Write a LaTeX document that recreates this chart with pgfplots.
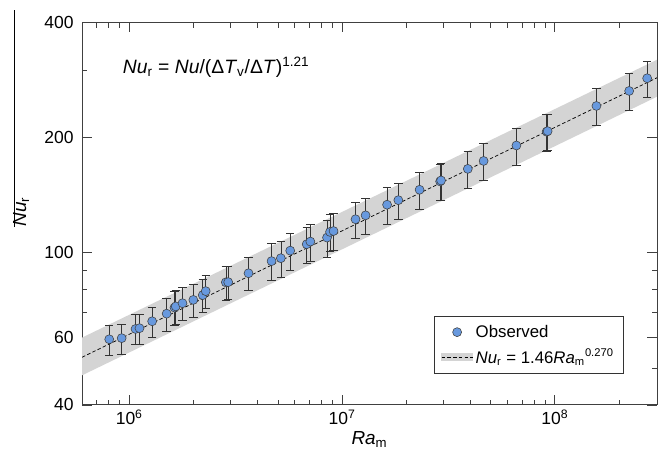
\documentclass[border=0pt]{standalone}
\usepackage{fontspec}
\setmainfont{Liberation Sans}
\usepackage{pgfplots}
\pgfplotsset{compat=1.18}
\usepackage{pgfplotstable}

\definecolor{ptblue}{RGB}{104,153,222}
\definecolor{bandgray}{RGB}{212,212,212}

% Ra_m, Nu_r, relative error
\pgfplotstableread{
ra      nu     err
8.05e5  59.4   0.09
9.21e5  59.8   0.09
1.07e6  63.2   0.09
1.117e6 63.5   0.09
1.281e6 66.2   0.09
1.499e6 69.3   0.10
1.631e6 71.9   0.10
1.654e6 72.4   0.10
1.779e6 73.8   0.10
2.00e6  75.3   0.10
2.214e6 77.5   0.10
2.287e6 79.4   0.10
2.843e6 83.7   0.10
2.917e6 83.8   0.10
3.635e6 88.4   0.10
4.663e6 95.1   0.11
5.157e6 96.8   0.11
5.708e6 101.3  0.11
6.823e6 105.3  0.11
7.096e6 107.0  0.11
8.50e6  109.6  0.11
8.78e6  113.4  0.11
9.12e6  114.0  0.11
1.157e7 122.4  0.11
1.290e7 125.3  0.11
1.628e7 133.6  0.11
1.839e7 137.3  0.11
2.314e7 146.2  0.11
2.89e7  153.7  0.11
2.92e7  154.6  0.11
3.90e7  165.8  0.11
4.627e7 173.9  0.11
6.60e7  190.9  0.11
9.15e7  207.4  0.11
9.25e7  208.1  0.11
1.569e8 242.2  0.11
2.236e8 265.1  0.11
2.716e8 286.2  0.11
}\obsdata

\begin{document}
\begin{tikzpicture}
\begin{axis}[
    xmode=log, ymode=log,
    scale only axis,
    width=410.6pt, height=273pt,
    xmin=6.0e5, xmax=3.02e8,
    ymin=40, ymax=400,
    xtick={1e6,1e7,1e8},
    xticklabels={10\textsuperscript{6},10\textsuperscript{7},10\textsuperscript{8}},
    minor xtick={7e5,8e5,9e5,2e6,3e6,4e6,5e6,6e6,7e6,8e6,9e6,2e7,3e7,4e7,5e7,6e7,7e7,8e7,9e7,2e8},
    ytick={40,60,100,200,400},
    yticklabels={40,60,100,200,400},
    minor ytick={50,70,80,90,300},
    xtick pos=both, ytick pos=both,
    xtick align=inside, ytick align=inside,
    major tick length=7pt, minor tick length=3.5pt,
    tick label style={font=\fontsize{12.5}{14}\selectfont},
    yticklabel style={xshift=-2.5pt},
    /pgf/number format/assume math mode=true,
    axis line style={black!75, line width=0.6pt},
    tick style={black!75, line width=0.5pt},
    legend style={
        at={(0.9426,0.081)}, anchor=south east,
        draw=black!80, line width=0.6pt,
        font=\fontsize{12}{14}\selectfont,
        inner xsep=5pt, inner ysep=4pt, row sep=3pt,
    },
    legend cell align=left,
]
% confidence band
\addplot[fill=bandgray, draw=none, forget plot]
    coordinates {(6.0e5,60.0) (3.02e8,320) (3.02e8,256) (6.0e5,47.8)} -- cycle;
% fit line
\addplot[black, line width=0.5pt, dash pattern=on 2.5pt off 1.6pt, forget plot]
    coordinates {(6.0e5,53.3) (3.02e8,287)};
% observations
\addplot[only marks, mark=*, mark size=3.2pt,
    mark options={fill=ptblue, draw=black!75, line width=0.4pt},
    forget plot,
    error bars/.cd, y dir=both, y explicit relative,
    error bar style={black!80, line width=0.45pt},
    error mark options={rotate=90, black!80, mark size=3pt, line width=0.45pt}]
    table[x=ra, y=nu, y error=err] {\obsdata};

\addlegendimage{legend image code/.code={
    \draw[mark=*, mark size=3.2pt, mark options={fill=ptblue, draw=black!75, line width=0.4pt}]
        plot coordinates {(11pt,0pt)};}}
\addlegendentry{Observed}
\addlegendimage{legend image code/.code={
    \fill[bandgray] (0pt,-2.5pt) rectangle (22pt,2.5pt);
    \draw[black, line width=0.5pt, dash pattern=on 2.5pt off 1.6pt] (0pt,0pt) -- (22pt,0pt);}}
\addlegendentry{\textit{Nu}\textsubscript{r} = 1.46\textit{Ra}\textsubscript{m}\textsuperscript{0.270}}

\node[anchor=base west, font=\fontsize{13.8}{16}\selectfont] at (axis cs:8.85e5,293.8)
    {\textit{Nu}\textsubscript{r} = \textit{Nu}/(Δ\textit{T}\textsubscript{v}/Δ\textit{T})\textsuperscript{1.21}};
\end{axis}

% axis labels
\node[font=\fontsize{13.5}{15}\selectfont] at ([shift={(205.3pt,-25pt)}]current axis.south west)
    {\textit{Ra}\textsubscript{m}};
\node[rotate=90, font=\fontsize{13.5}{15}\selectfont] at ([shift={(-43.5pt,137.8pt)}]current axis.south west)
    {\textit{Nu}\textsubscript{r}};
\draw[black, line width=0.5pt] ([shift={(-48.3pt,127pt)}]current axis.south west)
    -- ([shift={(-48.3pt,282pt)}]current axis.south west);

\pgfresetboundingbox
\path ([shift={(-58.6pt,-38.6pt)}]current axis.south west)
    rectangle ([shift={(7.9pt,16.2pt)}]current axis.north east);
\end{tikzpicture}
\end{document}
